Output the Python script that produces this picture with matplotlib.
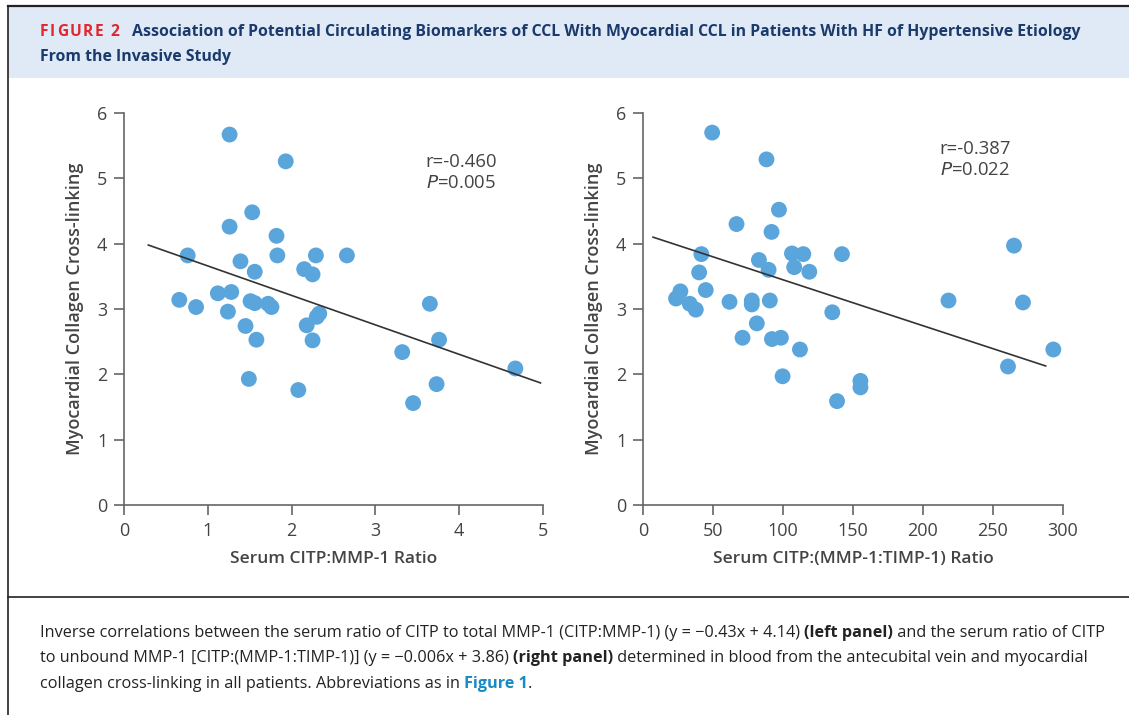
import matplotlib
matplotlib.use('Agg')
from matplotlib import pyplot as plt
from matplotlib.lines import Line2D
from matplotlib.patches import Rectangle
import numpy as np

plt.rcParams['font.family'] = ['Open Sans', 'DejaVu Sans']

# left panel: serum CITP:MMP-1 ratio vs myocardial CCL
left_x = [1.26, 1.93, 1.53, 1.26, 1.82, 0.76, 1.83, 2.29, 2.66, 1.39, 1.56, 2.15, 2.25,
          0.66, 0.86, 1.12, 1.28, 1.24, 1.51, 1.56, 1.72, 1.76, 2.30, 2.33, 1.45, 2.18,
          1.58, 2.25, 3.65, 3.76, 3.32, 4.67, 1.49, 2.08, 3.73, 3.45]
left_y = [5.67, 5.26, 4.48, 4.26, 4.12, 3.82, 3.82, 3.82, 3.82, 3.73, 3.57, 3.61, 3.53,
          3.14, 3.03, 3.24, 3.26, 2.96, 3.12, 3.09, 3.08, 3.03, 2.88, 2.93, 2.74, 2.75,
          2.53, 2.52, 3.08, 2.53, 2.34, 2.09, 1.93, 1.76, 1.85, 1.56]
left_fit = (-0.451, 4.11)     # slope, intercept of the drawn line
left_fit_range = (0.29, 4.97)
left_stats = ['r=-0.460', '$\\it{P}$=0.005']

# right panel: serum CITP:(MMP-1:TIMP-1) ratio vs myocardial CCL
right_x = [49.4, 88.2, 97.1, 66.8, 91.8, 41.7, 106.4, 114.5, 142.1, 265.0, 82.8, 89.7, 108.0,
           118.8, 40.1, 26.7, 44.8, 23.6, 33.4, 37.7, 61.8, 77.7, 77.7, 90.6, 218.2, 271.4,
           135.2, 81.3, 71.1, 92.1, 98.5, 112.1, 293.1, 260.7, 99.7, 155.3, 155.3, 138.6]
right_y = [5.70, 5.29, 4.52, 4.30, 4.18, 3.84, 3.85, 3.84, 3.84, 3.97, 3.75, 3.60, 3.64,
           3.57, 3.56, 3.27, 3.29, 3.16, 3.08, 2.99, 3.11, 3.13, 3.07, 3.13, 3.13, 3.10,
           2.95, 2.78, 2.56, 2.54, 2.56, 2.38, 2.38, 2.12, 1.97, 1.90, 1.80, 1.59]
right_fit = (-0.00703, 4.15)
right_fit_range = (7.2, 287.6)
right_stats = ['r=-0.387', '$\\it{P}$=0.022']

ylabel = 'Myocardial Collagen Cross-linking'
left_xlabel = 'Serum CITP:MMP-1 Ratio'
right_xlabel = 'Serum CITP:(MMP-1:TIMP-1) Ratio'

W, H = 1129, 715
fig = plt.figure(figsize=(W / 100, H / 100), dpi=100)
fig.patch.set_facecolor('white')

def fx(px):
    return px / W

def fy(py):
    return 1 - py / H

# header band and frame
fig.add_artist(Rectangle((fx(8), fy(78)), 1, fy(6) - fy(78), transform=fig.transFigure,
                         facecolor='#dfeaf6', edgecolor='none', zorder=0))
fig.add_artist(Line2D([fx(8), 1], [fy(6), fy(6)], color='#222222', lw=1.6))
fig.add_artist(Line2D([fx(8), fx(8)], [fy(6), 0], color='#222222', lw=1.2))
fig.add_artist(Line2D([fx(8), 1], [fy(597), fy(597)], color='#222222', lw=1.2))

dot = '#5aa5db'
tick_col = '#444444'
spine_col = '#666666'

def panel(rect, xs, ys, fit, fit_range, stats, stats_pos, xlim, xticks, xlabel):
    ax = fig.add_axes(rect)
    ax.scatter(xs, ys, s=130, color=dot, edgecolors='none', zorder=3)
    lx = np.array(fit_range)
    ax.plot(lx, fit[0] * lx + fit[1], color='#333333', lw=1.2, zorder=4)
    ax.set_xlim(*xlim)
    ax.set_ylim(0, 6)
    ax.set_xticks(xticks)
    ax.set_yticks(range(0, 7))
    for s in ['top', 'right']:
        ax.spines[s].set_visible(False)
    for s in ['left', 'bottom']:
        ax.spines[s].set_color(spine_col)
        ax.spines[s].set_linewidth(1.2)
    ax.tick_params(colors=spine_col, width=1.2, length=7, labelsize=13, labelcolor=tick_col, pad=5)
    ax.set_xlabel(xlabel, fontsize=12.5, color=tick_col, labelpad=8, fontweight='semibold')
    ax.set_ylabel(ylabel, fontsize=13, color=tick_col, labelpad=9, fontweight='semibold')
    ax.text(stats_pos[0], stats_pos[1], stats[0], fontsize=13.3, color=tick_col, va='center')
    ax.text(stats_pos[0], stats_pos[1] - 0.32, stats[1], fontsize=13.3, color=tick_col, va='center')
    ax.set_facecolor('none')
    return ax

panel([fx(124), fy(505), fx(543) - fx(124), fy(113) - fy(505)], left_x, left_y, left_fit,
      left_fit_range, left_stats, (3.6, 5.25), (0, 5), range(0, 6), left_xlabel)
panel([fx(643), fy(505), fx(1063) - fx(643), fy(113) - fy(505)], right_x, right_y, right_fit,
      right_fit_range, right_stats, (212, 5.45), (0, 300), range(0, 301, 50), right_xlabel)

renderer = fig.canvas.get_renderer()

def runs(x0, ypx, parts, size, track=0.0):
    # draws text pieces one after another on a baseline; track adds px between letters
    x = x0
    for txt, weight, col in parts:
        pieces = list(txt) if track else [txt]
        for p in pieces:
            t = fig.text(fx(x), fy(ypx), p, fontsize=size, fontweight=weight, color=col,
                         va='baseline', ha='left')
            if p == ' ':
                t2 = fig.text(0, 0, 'a a', fontsize=size, fontweight=weight)
                t3 = fig.text(0, 0, 'aa', fontsize=size, fontweight=weight)
                w = t2.get_window_extent(renderer).width - t3.get_window_extent(renderer).width
                t2.remove()
                t3.remove()
            else:
                w = t.get_window_extent(renderer).width
            x += w + track
    return x

navy = '#1b3a6c'
end = runs(40, 36, [('FIGURE 2', 'bold', '#e0262f')], 11.2, track=1.6)
runs(end + 11, 36, [('Association of Potential Circulating Biomarkers of CCL With Myocardial CCL in '
                     'Patients With HF of Hypertensive Etiology', 'bold', navy)], 11.4)
runs(40, 61, [('From the Invasive Study', 'bold', navy)], 11.4)

cap = '#222222'
cs = 11.7
runs(40, 637, [('Inverse correlations between the serum ratio of CITP to total MMP-1 (CITP:MMP-1) '
                '(y = \u22120.43x + 4.14) ', 'normal', cap), ('(left panel)', 'bold', cap),
               (' and the serum ratio of CITP', 'normal', cap)], cs)
runs(40, 662, [('to unbound MMP-1 [CITP:(MMP-1:TIMP-1)] (y = \u22120.006x + 3.86) ', 'normal', cap),
               ('(right panel)', 'bold', cap),
               (' determined in blood from the antecubital vein and myocardial', 'normal', cap)], cs)
runs(40, 688, [('collagen cross-linking in all patients. Abbreviations as in ', 'normal', cap),
               ('Figure 1', 'bold', '#1a8ac4'), ('.', 'normal', cap)], cs)

fig.savefig('out.png', dpi=100, facecolor='white')
